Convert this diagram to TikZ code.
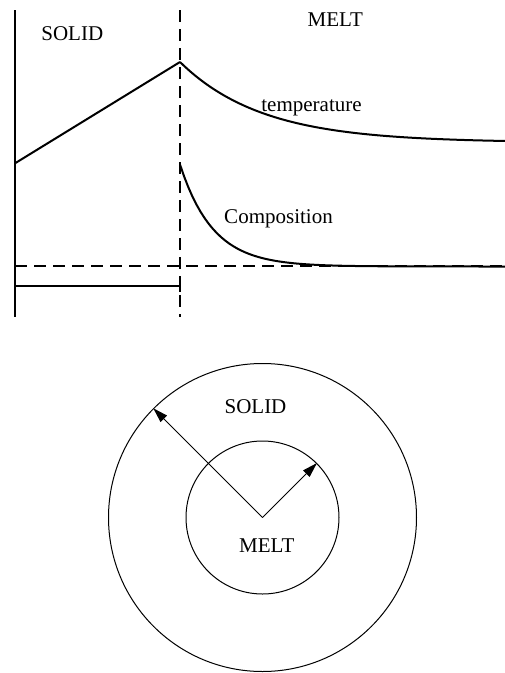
\documentclass[tikz,border=0pt]{standalone}
\usepackage{fontspec}
\setmainfont{Liberation Serif}
\usetikzlibrary{arrows.meta,positioning}
\tikzset{axisline/.style={line width=2pt},
 guide/.style={line width=1.6pt,dash pattern=on 12pt off 7pt},
 profile/.style={line width=2pt},
 label/.style={font=\fontsize{21}{25}\selectfont,inner sep=0pt,anchor=base},
 ring/.style={draw,circle,line width=1pt,inner sep=0pt},
 radius/.style={-{Triangle[length=15pt,width=9pt]},line width=1pt}}
\begin{document}
\begin{tikzpicture}[x=1pt,y=-1pt]
\useasboundingbox (0,0) rectangle (505,673);
% profile across the interface
\coordinate (wall top) at (15,10);
\coordinate (wall bottom) at (15,317);
\coordinate (front top) at (180,10);
\coordinate (front bottom) at (180,317);
\coordinate (start) at (15,163.3);
\coordinate (peak) at (180,62);
\coordinate (level left) at (15,266);
\coordinate (level right) at (505,266);
\coordinate (base left) at (15,286);
\coordinate (base right) at (180,286);
\draw[axisline] (wall top)--(wall bottom);
\draw[guide] (front top)--(front bottom);
\draw[guide] (level left)--(level right);
\draw[profile] (base left)--(base right)--(180,292);
\draw[profile] (start)--(peak);
\draw[profile] plot[domain=180:505,samples=80] (\x,{142.5-80.5*exp(-(\x-180)/82)});
\draw[profile] plot[domain=180:505,samples=80] (\x,{266.5-102*exp(-(\x-180)/33)});
\node[label] (solid top) at (72.3,40.7) {SOLID};
\node[label] (melt top) at (335.3,26) {MELT};
\node[label] (temperature) at (311.5,111.7) {temperature};
\node[label] (composition) at (278.5,223) {Composition};
% rings
\coordinate (centre) at (262.5,517.5);
\node[ring,minimum size=308pt] (outer) at (centre) {};
\node[ring,minimum size=153pt] (inner) at (centre) {};
\draw[radius] (centre)--(outer.135);
\draw[radius] (centre)--(inner.45);
\node[label] (solid ring) at (255.5,413.3) {SOLID};
\node[label] (melt ring) at (266.7,552.7) {MELT};
\end{tikzpicture}
\end{document}
